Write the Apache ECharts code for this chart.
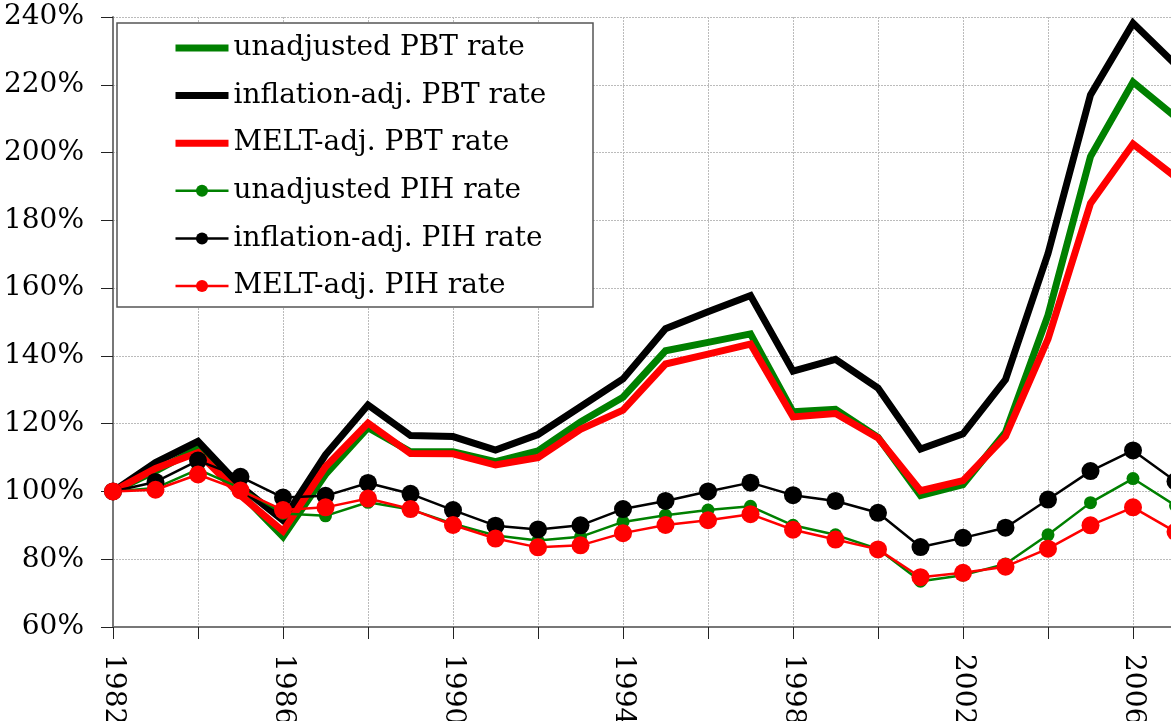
<!DOCTYPE html>
<html>
<head>
<meta charset="utf-8">
<script src="https://cdn.jsdelivr.net/npm/echarts@6/dist/echarts.min.js"></script>
<style>
html,body{margin:0;padding:0;background:#fff;}
#c{width:1171px;height:721px;}
</style>
</head>
<body>
<div id="c"></div>
<script>
const years = ['1982','1983','1984','1985','1986','1987','1988','1989','1990','1991','1992','1993','1994','1995','1996','1997','1998','1999','2000','2001','2002','2003','2004','2005','2006','2007'];

const unadjPBT = [100,106,112.7,99.5,86.6,105,118.8,111.7,111.7,108.8,112,120.5,127.8,141.5,144,146.5,123.5,124.2,116,98.8,102,117.5,152,198.8,220.8,210.5];
const inflPBT  = [100,108.5,114.8,101.5,91.5,110.8,125.5,116.5,116.2,112.2,116.8,125,133.2,148,153,157.8,135.5,139,130.5,112.5,117,133,170.2,217,238.2,226];
const meltPBT  = [100,106.8,111.5,98.8,88.3,107.3,120.2,111.2,111.1,107.8,110,118.3,124,137.6,140.5,143.5,122,123,115.8,100.2,103.2,116.3,145,185,202.5,192.8];
const unadjPIH = [100,101,106.5,101,93.5,92.8,96.8,94.7,90.5,87,85.5,86.6,91,93,94.5,95.6,90,87.2,83,73.5,75.3,78.6,87.2,96.7,103.8,95.8];
const inflPIH  = [100,102.8,109.1,104.3,98.2,98.7,102.5,99.3,94.5,89.9,88.8,90,94.8,97.2,100,102.6,98.9,97.2,93.7,83.6,86.3,89.3,97.6,106,112.1,103];
const meltPIH  = [100,100.5,105,100.3,94.5,95.3,97.9,94.8,90.1,86.1,83.5,84.1,87.7,90.1,91.5,93.3,88.7,85.8,82.9,74.7,76,77.8,83.1,90,95.3,88.1];

const names = ['unadjusted PBT rate','inflation-adj. PBT rate','MELT-adj. PBT rate','unadjusted PIH rate','inflation-adj. PIH rate','MELT-adj. PIH rate'];

const FONT = 'DejaVu Serif';
const GREEN = '#008000', BLACK = '#000000', RED = '#ff0000';

function pbt(name, data, color) {
  return {
    name: name, type: 'line', data: data, symbol: 'none',
    lineStyle: { color: color, width: 7, join: 'miter' },
    itemStyle: { color: color },
    emphasis: { disabled: true }, animation: false
  };
}
function pih(name, data, color, size) {
  return {
    name: name, type: 'line', data: data, symbol: 'circle', symbolSize: size, showSymbol: true,
    lineStyle: { color: color, width: 2.5 },
    itemStyle: { color: color, borderWidth: 0 },
    emphasis: { disabled: true }, animation: false
  };
}

const legendData = [
  { name: names[0], lineStyle: { width: 7, color: GREEN }, itemStyle: { opacity: 0 } },
  { name: names[1], lineStyle: { width: 7, color: BLACK }, itemStyle: { opacity: 0 } },
  { name: names[2], lineStyle: { width: 7, color: RED }, itemStyle: { opacity: 0 } },
  { name: names[3], lineStyle: { width: 2.5, color: GREEN }, itemStyle: { color: GREEN } },
  { name: names[4], lineStyle: { width: 2.5, color: BLACK }, itemStyle: { color: BLACK } },
  { name: names[5], lineStyle: { width: 2.5, color: RED }, itemStyle: { color: RED } }
];

const chart = echarts.init(document.getElementById('c'), null, { renderer: 'canvas' });
chart.setOption({
  animation: false,
  backgroundColor: '#ffffff',
  grid: { left: 113, top: 17, height: 610, width: 1062.5, containLabel: false, outerBoundsMode: 'none' },
  xAxis: {
    type: 'category', data: years, boundaryGap: false,
    axisLine: { show: true, lineStyle: { color: '#777', width: 2 } },
    axisTick: { show: true, interval: 1, length: 12, lineStyle: { color: '#222', width: 1 } },
    axisLabel: { interval: 3, rotate: -90, margin: 27, color: '#000', fontFamily: FONT, fontSize: 28 },
    splitLine: { show: true, interval: 1, lineStyle: { color: '#bbb', type: [2, 1], width: 1 } }
  },
  yAxis: {
    type: 'value', min: 60, max: 240, interval: 20,
    axisLine: { show: true, lineStyle: { color: '#777', width: 2 } },
    axisTick: { show: true, length: 12, lineStyle: { color: '#222', width: 1 } },
    axisLabel: { formatter: '{value}%', margin: 29, color: '#000', fontFamily: FONT, fontSize: 28 },
    splitLine: { show: true, lineStyle: { color: '#bbb', type: [2, 1], width: 1 } }
  },
  graphic: [{
    type: 'rect', z: 3, silent: true,
    shape: { x: 117, y: 23, width: 476, height: 284 },
    style: { fill: '#ffffff', stroke: '#555', lineWidth: 1.5 }
  }],
  legend: {
    z: 5, orient: 'vertical', left: 172, top: 33, padding: 0,
    itemWidth: 53, itemHeight: 15, itemGap: 17.6,
    textStyle: { fontFamily: FONT, fontSize: 28, color: '#000', lineHeight: 30 },
    data: legendData
  },
  series: [
    pbt(names[0], unadjPBT, GREEN),
    pbt(names[1], inflPBT, BLACK),
    pbt(names[2], meltPBT, RED),
    pih(names[3], unadjPIH, GREEN, 13),
    pih(names[4], inflPIH, BLACK, 18),
    pih(names[5], meltPIH, RED, 18)
  ]
});
</script>
</body>
</html>
